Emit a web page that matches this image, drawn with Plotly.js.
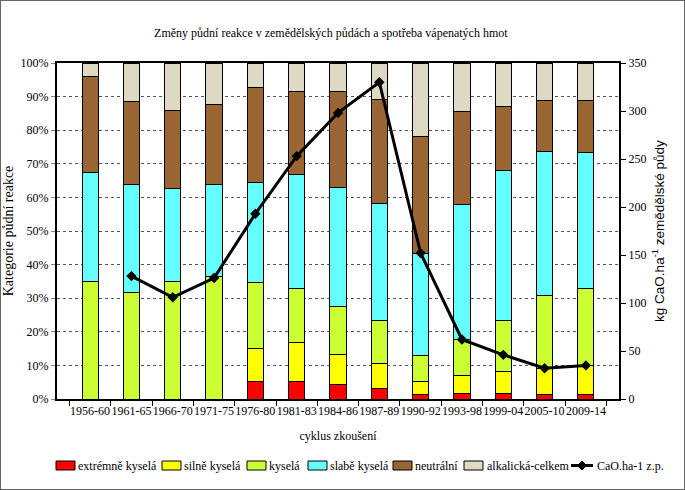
<!DOCTYPE html>
<html>
<head>
<meta charset="utf-8">
<script src="https://cdn.plot.ly/plotly-3.0.1.min.js"></script>
<style>
html,body{margin:0;padding:0;background:#fff;}
#wrap{position:relative;width:685px;height:490px;}
#chart{width:685px;height:490px;}
#frame{position:absolute;left:0;top:0;width:685px;height:490px;box-sizing:border-box;border:1px solid #666;pointer-events:none;}
</style>
</head>
<body>
<div id="wrap"><div id="chart"></div><div id="frame"></div></div>
<script>
const categories = ["1956-60","1961-65","1966-70","1971-75","1976-80","1981-83","1984-86","1987-89","1990-92","1993-98","1999-04","2005-10","2009-14"];
const extremneKysela = [0, 0, 0, 0, 5.2, 5.3, 4.3, 3.2, 1.2, 1.7, 1.7, 1.4, 1.4];
const silneKysela    = [0, 0, 0, 0, 9.9, 11.4, 9.0, 7.3, 4.0, 5.2, 6.4, 7.7, 8.7];
const kysela         = [35.1, 31.8, 34.9, 36.5, 19.5, 16.1, 14.3, 12.9, 7.7, 10.9, 15.4, 21.8, 22.7];
const slabeKysela    = [32.4, 32.1, 27.8, 27.2, 29.9, 34.1, 35.4, 34.8, 30.3, 40.0, 44.4, 42.7, 40.6];
const neutralni      = [28.4, 24.5, 23.2, 24.0, 28.3, 24.7, 28.5, 31.0, 34.9, 27.9, 19.2, 15.3, 15.4];
const alkalicka      = [4.1, 11.6, 14.1, 12.3, 7.2, 8.4, 8.5, 10.8, 21.9, 14.3, 12.9, 11.1, 11.2];
const caoHa          = [null, 128, 106, 126, 193, 253, 298, 330, 152, 62, 46, 32, 35];

const seriesNames = ["extrémně kyselá","silně kyselá","kyselá","slabě kyselá","neutrální","alkalická-celkem"];
const lineName = "CaO.ha-1 z.p.";
const seriesColors = ["#FF0000","#FFFF00","#CCFF33","#66FFFF","#996633","#DDD9C3"];
const seriesValues = [extremneKysela, silneKysela, kysela, slabeKysela, neutralni, alkalicka];

const serif = "Liberation Serif";
const sans = "Liberation Sans";
const traces = seriesValues.map((vals, i) => ({
  type: "bar",
  name: seriesNames[i],
  x: categories,
  y: vals,
  marker: {color: seriesColors[i], line: {color: "#000", width: 1}}
}));
traces.push({
  type: "scatter",
  mode: "lines+markers",
  name: lineName,
  x: categories,
  y: caoHa,
  yaxis: "y2",
  line: {color: "#000", width: 3},
  marker: {symbol: "diamond", size: 8, color: "#000"},
  connectgaps: false
});

// Legend (one row, drawn as in the original), positions in page pixels
const M = {l: 57, r: 66, t: 63, b: 91};
const W = 685, H = 490;
const pw = W - M.l - M.r, ph = H - M.t - M.b;
const px2x = p => (p - M.l) / pw;
const px2y = p => (H - M.b - p) / ph;
const legY = 465.5;
const boxStarts = [56, 162, 247, 308, 393, 464];
const textStarts = [77, 183, 268, 329, 414, 486, 596];
const shapes = [];
const annotations = [];
boxStarts.forEach((bx, i) => {
  shapes.push({type: "rect", xref: "paper", yref: "paper",
    x0: px2x(bx), x1: px2x(bx + 19), y0: px2y(legY + 4.5), y1: px2y(legY - 4.5),
    fillcolor: seriesColors[i], line: {color: "#000", width: 1}});
  annotations.push({xref: "paper", yref: "paper", x: px2x(textStarts[i]), y: px2y(legY),
    text: seriesNames[i], showarrow: false, xanchor: "left", yanchor: "middle",
    font: {family: serif, size: 12, color: "#000"}, borderpad: 0});
});
shapes.push({type: "line", xref: "paper", yref: "paper",
  x0: px2x(571), x1: px2x(593), y0: px2y(legY), y1: px2y(legY), line: {color: "#000", width: 3}});
const dx = 4.5 / pw, dy = 4.5 / ph, cx = px2x(582), cy = px2y(legY);
shapes.push({type: "path", xref: "paper", yref: "paper",
  path: `M ${cx - dx} ${cy} L ${cx} ${cy + dy} L ${cx + dx} ${cy} L ${cx} ${cy - dy} Z`,
  fillcolor: "#000", line: {color: "#000", width: 1}});
annotations.push({xref: "paper", yref: "paper", x: px2x(textStarts[6]), y: px2y(legY),
  text: lineName, showarrow: false, xanchor: "left", yanchor: "middle",
  font: {family: serif, size: 12, color: "#000"}, borderpad: 0});

const layout = {
  width: W, height: H,
  margin: {l: M.l, r: M.r, t: M.t, b: M.b, autoexpand: false},
  paper_bgcolor: "#fff", plot_bgcolor: "#fff",
  barmode: "stack",
  bargap: 0.61,
  font: {family: serif, size: 12, color: "#000"},
  title: {text: "Změny půdní reakce v zemědělských půdách a spotřeba vápenatých hmot",
          font: {family: serif, size: 12, color: "#000"},
          x: 0.483, xanchor: "center", y: 0.933, yanchor: "middle", yref: "container"},
  xaxis: {
    type: "category", automargin: false,
    tickson: "boundaries", tickangle: 0,
    ticks: "outside", ticklen: 5, tickcolor: "#000",
    showline: true, linecolor: "#000", linewidth: 2, mirror: true,
    showgrid: false,
    tickfont: {family: serif, size: 12, color: "#000"},
    title: {text: "cyklus zkoušení", font: {family: serif, size: 12, color: "#000"}, standoff: 14}
  },
  yaxis: {
    automargin: false,
    range: [0, 100], dtick: 10, ticksuffix: "%",
    ticks: "outside", ticklen: 4, tickcolor: "#888",
    showline: true, linecolor: "#000", linewidth: 2,
    showgrid: true, gridcolor: "#555", griddash: "dot", gridwidth: 1,
    zeroline: false,
    tickfont: {family: serif, size: 12, color: "#000"},
    title: {text: "Kategorie půdní reakce", font: {family: serif, size: 14, color: "#000"}, standoff: 4}
  },
  yaxis2: {
    automargin: false,
    overlaying: "y", side: "right",
    range: [0, 350], dtick: 50,
    ticks: "outside", ticklen: 5, tickcolor: "#000",
    showline: true, linecolor: "#000", linewidth: 2,
    showgrid: false, zeroline: false,
    tickfont: {family: serif, size: 12, color: "#000"},
    title: {text: "kg CaO.ha<sup>-1</sup> zemědělské půdy", font: {family: sans, size: 13.5, color: "#000"}, standoff: 9}
  },
  showlegend: false,
  shapes: shapes,
  annotations: annotations
};

Plotly.newPlot("chart", traces, layout, {displayModeBar: false, staticPlot: true});
</script>
</body>
</html>
